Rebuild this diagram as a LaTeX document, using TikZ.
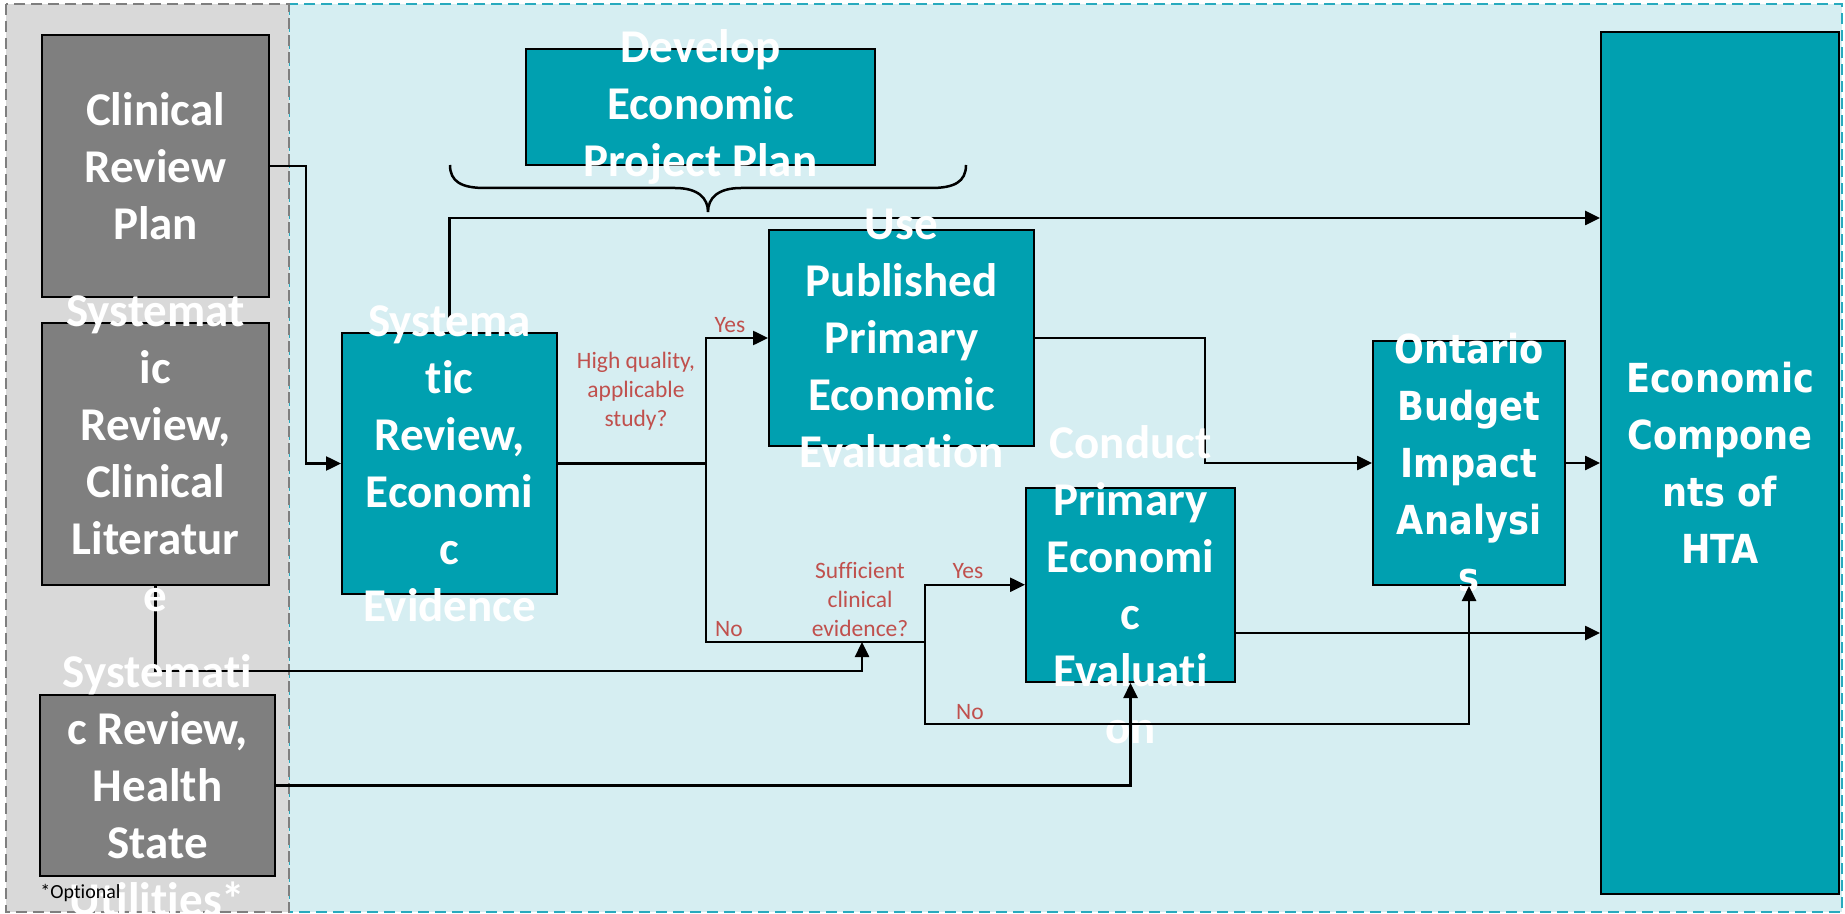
\documentclass[tikz,border=0pt]{standalone}
\usepackage{fontspec}
\setmainfont{Carlito}[Ligatures=NoCommon]
\newfontfamily\tahfont[FakeStretch=0.88]{DejaVu Sans}
\usetikzlibrary{arrows.meta,fit}
\definecolor{tealbox}{RGB}{0,160,176}
\definecolor{graybox}{RGB}{127,127,127}
\definecolor{leftbg}{RGB}{217,217,217}
\definecolor{rightbg}{RGB}{214,238,242}
\definecolor{tealborder}{RGB}{40,170,190}
\definecolor{redlabel}{RGB}{192,80,77}
\tikzset{
  tbox/.style={draw=black, line width=1pt, fill=tealbox, inner sep=0pt},
  gbox/.style={draw=black, line width=1pt, fill=graybox, inner sep=0pt},
  boxtxt/.style={text=white, font=\bfseries\fontsize{23.5}{28.5}\selectfont, align=center, inner sep=0pt},
  tahtxt/.style={text=white, font=\tahfont\bfseries\fontsize{20}{28.5}\selectfont, align=center, inner sep=0pt},
  redtxt/.style={text=redlabel, font=\fontsize{11.75}{14.5}\selectfont, align=center, inner sep=0pt, anchor=base},
  conn/.style={draw=black, line width=1.25pt},
  arr/.style={conn, -{Triangle[length=7.5pt,width=7pt]}},
}
\begin{document}
\begin{tikzpicture}[x=0.5pt,y=-0.5pt]
\useasboundingbox (0,0) rectangle (1845,914);
% panels
\filldraw[fill=rightbg, draw=tealborder, line width=0.7pt, dash pattern=on 5.5pt off 3pt] (289,4) rectangle (1842,912);
\filldraw[fill=leftbg, draw=graybox, line width=0.6pt, dash pattern=on 5.5pt off 3pt] (6,4) rectangle (289,912);
% brace
\draw[conn] (450,165) .. controls (450,182) and (462,188) .. (485,188) -- (675,188)
  .. controls (698,188) and (708,198) .. (708,212)
  .. controls (708,198) and (718,188) .. (741,188) -- (931,188)
  .. controls (954,188) and (966,182) .. (966,165);
% boxes
\node[gbox, fit={(42,35) (269,297)}] (crp) {};
\node[gbox, fit={(42,323) (269,585)}] (srcl) {};
\node[gbox, fit={(40,695) (275,876)}] (srhsu) {};
\node[tbox, fit={(526,49) (875,165)}] (depp) {};
\node[tbox, fit={(342,333) (557,594)}] (sree) {};
\node[tbox, fit={(769,230) (1034,446)}] (uppee) {};
\node[tbox, fit={(1026,487.5) (1235,682)}] (cpee) {};
\node[tbox, fit={(1373,341) (1565,585)}] (obia) {};
\node[tbox, fit={(1601,32) (1839,894)}] (ech) {};
% helper coordinates
\coordinate (top) at (449.5,218);
\coordinate (d1) at (706,463.5);
\coordinate (d2) at (925,642);
\coordinate (e2) at (862,642);
\coordinate (y671) at (0,671);
\coordinate (y724) at (0,724);
\coordinate (y633) at (0,633);
% connectors
\draw[arr] (crp.east) -- ++(36,0) |- (sree.west);
\draw[arr] (sree.north) |- (ech.west |- top);
\draw[conn] (sree.east) -- (d1);
\draw[arr] (d1) |- (uppee.west);
\draw[conn] (d1) |- (d2);
\draw[arr] (d2) |- (cpee.west);
\draw[arr] (srcl.south) |- (e2 |- y671) -- (e2);
\draw[arr] (uppee.east) -- ++(170,0) |- (obia.west);
\draw[arr] (obia.east) -- (ech.west |- obia.east);
\draw[arr] (cpee.east |- y633) -- (ech.west |- y633);
% box texts
\node[boxtxt] at (crp.center) {Clinical\\Review\\Plan};
\node[boxtxt] at (srcl.center) {Systemat\\ic\\Review,\\Clinical\\Literatur\\e};
\node[boxtxt] at (srhsu.center) {Systemati\\c Review,\\Health\\State\\Utilities*};
\node[boxtxt] at (depp.center) {Develop\\Economic\\Project Plan};
\node[boxtxt] at (sree.center) {Systema\\tic\\Review,\\Economi\\c\\Evidence};
\node[boxtxt] at (uppee.center) {Use\\Published\\Primary\\Economic\\Evaluation};
\node[boxtxt] at (cpee.center) {Conduct\\Primary\\Economi\\c\\Evaluati\\on};
\node[tahtxt] at (obia.center) {Ontario\\Budget\\Impact\\Analysi\\s};
\node[tahtxt] at (ech.center) {Economic\\Compone\\nts of\\HTA};
% arrows drawn over text
\draw[arr] (d2) |- (obia.south |- y724) -- (obia.south);
\draw[arr] (srhsu.east) -| (cpee.south);
% labels (base = baseline of last line)
\node[redtxt] (q1) at (636,426) {High quality,\\applicable\\study?};
\node[redtxt] (y1) at (730,333) {Yes};
\node[redtxt] (n1) at (729,636) {No};
\node[redtxt] (q2) at (860,636) {Sufficient\\clinical\\evidence?};
\node[redtxt] (y2) at (968,578) {Yes};
\node[redtxt] (n2) at (970,719) {No};
\node[font=\fontsize{10}{12}\selectfont, anchor=base west, inner sep=0pt] (opt) at (40,898) {*Optional};
\end{tikzpicture}
\end{document}
